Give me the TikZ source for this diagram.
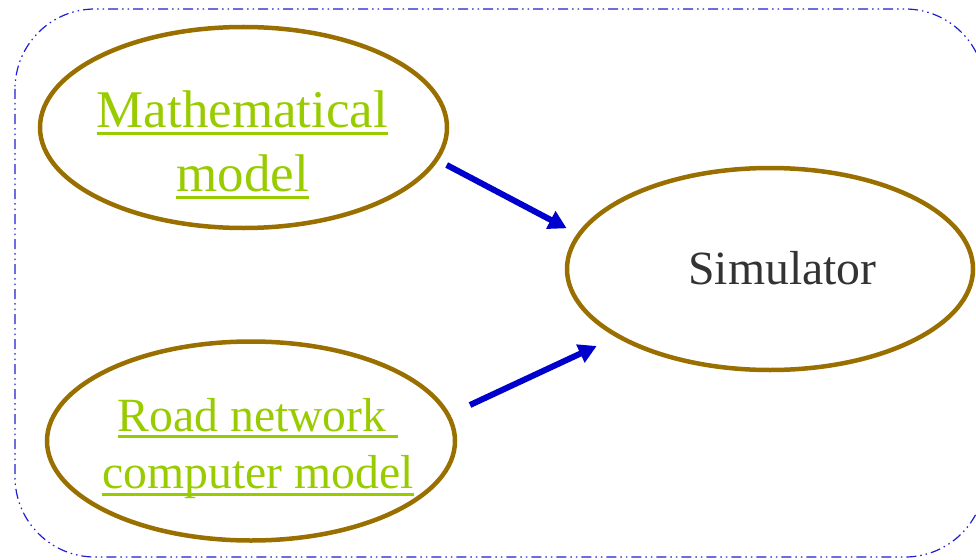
\documentclass[tikz,border=0pt]{standalone}
\usepackage{fontspec}
\setmainfont{Liberation Serif}
\usetikzlibrary{shapes.geometric,arrows.meta}
\definecolor{ellbrown}{RGB}{153,111,0}
\definecolor{txtgreen}{RGB}{153,204,0}
\definecolor{txtgray}{RGB}{51,51,51}
\definecolor{arrblue}{RGB}{0,0,204}
\definecolor{bordblue}{RGB}{30,30,210}
\newsavebox\ulbox
\newcommand\ulin[1]{\sbox\ulbox{#1}\rlap{\rule[-7pt]{\wd\ulbox}{3pt}}\usebox\ulbox}
\begin{document}
\begin{tikzpicture}[x=1pt,y=-1pt,
  ellbox/.style={ellipse,draw=ellbrown,line width=4.5pt,inner sep=0pt},
  bigtxt/.style={anchor=base,inner sep=0pt,text=txtgreen,font=\fontsize{53}{63.6}\selectfont},
  midtxt/.style={anchor=base,inner sep=0pt,text=txtgreen,font=\fontsize{47.7}{57.2}\selectfont},
  arrow/.style={draw=arrblue,line width=6pt,-{Triangle[length=18pt,width=19pt]}},
  frame/.style={draw=bordblue,line width=1.2pt,rounded corners=80pt,
    dash pattern=on 10pt off 4pt on 1.5pt off 4pt on 1.5pt off 4pt}]
\useasboundingbox (0,0) rectangle (976,559);
\draw[frame] (15,9) rectangle (985,557);
\node[ellbox,minimum width=407pt,minimum height=201pt] (m) at (243.5,127.5) {};
\node[ellbox,minimum width=408pt,minimum height=199pt] (r) at (251,441) {};
\node[ellbox,minimum width=406pt,minimum height=202pt] (s) at (770,269) {};
\node[bigtxt] (m1) at (242.5,128) {\ulin{Mathematical}};
\node[bigtxt] (m2) at (242.5,191.7) {\ulin{model}};
\node[midtxt] (r1) at (258,431) {\ulin{Road network\ }};
\node[midtxt] (r2) at (258,488.5) {\ulin{computer model}};
\node[anchor=base,inner sep=0pt,text=txtgray,font=\fontsize{47.7}{57.2}\selectfont] (st) at (782.5,284.3) {Simulator};
\coordinate (a1s) at (446.7,165);
\coordinate (a1e) at (566.7,228.3);
\coordinate (a2s) at (470,405);
\coordinate (a2e) at (596.7,346);
\draw[arrow] (a1s) -- (a1e);
\draw[arrow] (a2s) -- (a2e);
\end{tikzpicture}
\end{document}
